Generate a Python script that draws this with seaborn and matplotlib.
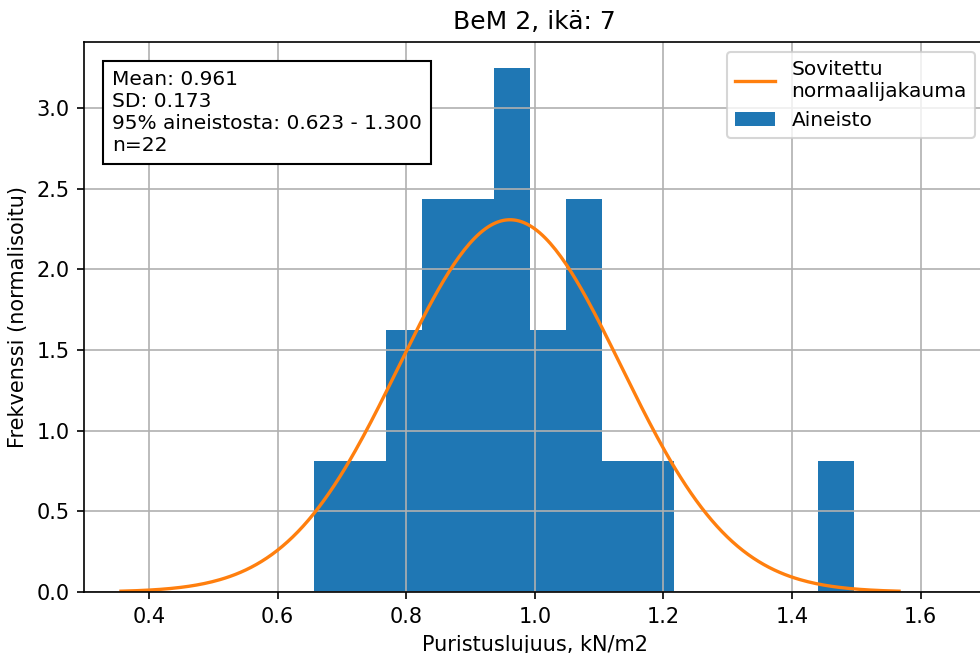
import numpy as np
import pandas as pd
import seaborn as sns
import matplotlib
matplotlib.use("Agg")
import matplotlib.pyplot as plt

# Puristuslujuus samples (kN/m2)
strength = [0.657, 0.75, 0.79, 0.81, 0.83, 0.84, 0.86, 0.89, 0.90, 0.92, 0.94,
            0.95, 0.957, 0.98, 1.01, 1.04, 1.055, 1.07, 1.071, 1.133, 1.199, 1.497]
n_bins = 15
title = "BeM 2, ikä: 7"
x_label = "Puristuslujuus, kN/m2"
y_label = "Frekvenssi (normalisoitu)"
fit_label = "Sovitettu\nnormaalijakauma"
data_label = "Aineisto"

df = pd.DataFrame({"strength": strength})
mean = df["strength"].mean()
sd = df["strength"].std(ddof=0)
low, high = mean - 1.96 * sd, mean + 1.96 * sd

# fitted normal curve, mean +- 3.5 sd
xs = np.linspace(mean - 3.5 * sd, mean + 3.5 * sd, 300)
pdf = np.exp(-0.5 * ((xs - mean) / sd) ** 2) / (sd * np.sqrt(2 * np.pi))
curve = pd.DataFrame({"x": xs, "pdf": pdf})

fig = plt.figure(figsize=(980 / 150, 653 / 150), dpi=150)
ax = fig.add_axes([84 / 980, 61 / 653, 901 / 980, 550 / 653])

sns.histplot(data=df, x="strength", bins=n_bins, stat="density", color="#1f77b4",
             alpha=1, linewidth=0, label=data_label, ax=ax)
sns.lineplot(data=curve, x="x", y="pdf", color="#ff7f0e", linewidth=1.6,
             label=fit_label, ax=ax)

ax.grid(True, color="#b0b0b0", linewidth=0.8)
ax.set_xlim(0.2988, 1.70)
ax.set_ylim(0, 3.41)
ax.set_title(title, fontsize=12)
ax.set_xlabel(x_label, fontsize=10)
ax.set_ylabel(y_label, fontsize=10)
ax.tick_params(labelsize=10)

handles, labels = ax.get_legend_handles_labels()
ax.legend(handles, labels, loc="upper right", fontsize=9.65)

stats_text = (f"Mean: {mean:.3f}\nSD: {sd:.3f}\n"
              f"95% aineistosta: {low:.3f} - {high:.3f}\nn={len(strength)}")
ax.annotate(stats_text, xy=(0, 1), xycoords="axes fraction",
            xytext=(13.6, -13.5), textcoords="offset points",
            ha="left", va="top", fontsize=9.65,
            bbox=dict(boxstyle="square,pad=0.45", facecolor="white",
                      edgecolor="black", linewidth=1.0))

fig.savefig("out.png", dpi=150)
